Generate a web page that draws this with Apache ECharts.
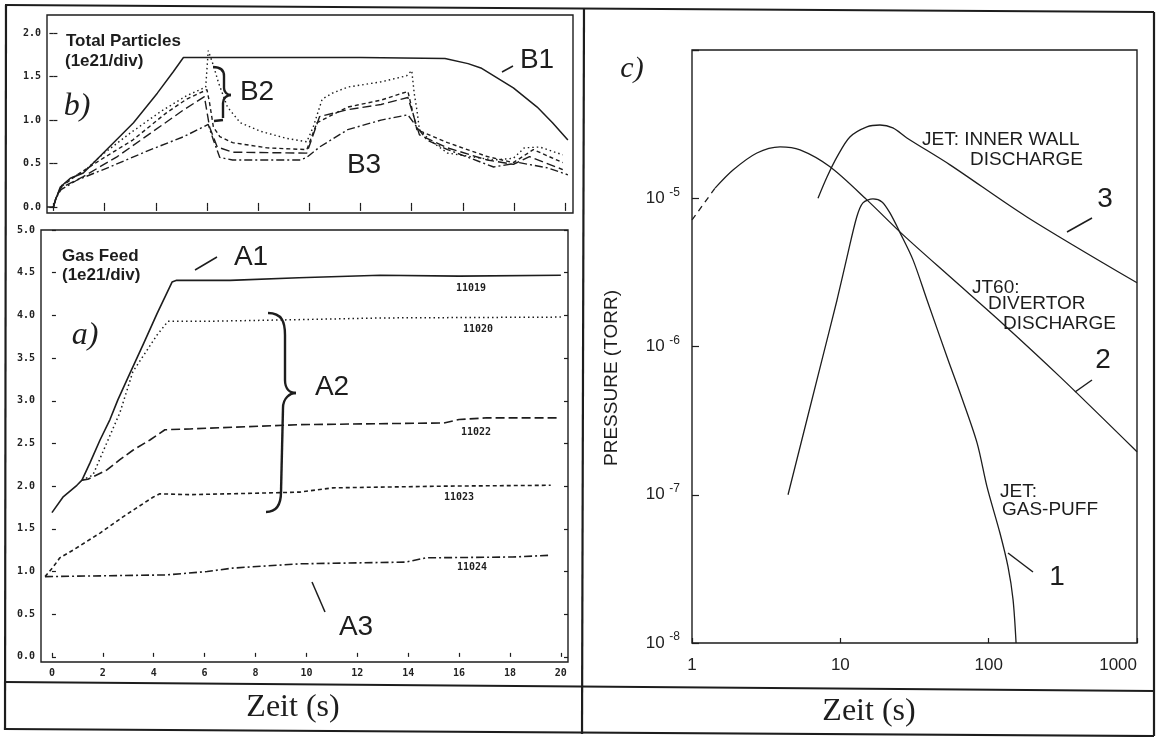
<!DOCTYPE html>
<html>
<head>
<meta charset="utf-8">
<script src="https://cdn.jsdelivr.net/npm/echarts@6/dist/echarts.min.js"></script>
<style>
  html, body { margin: 0; padding: 0; background: #ffffff; }
  #chart { width: 1156px; height: 737px; }
</style>
</head>
<body>
<div id="chart"></div>
<script>
// ---- b) Total particles (1e21/div) vs time (s) ----
const particlesB1 = [[-0.25,0],[0,0],[0.08,0.08],[0.27,0.23],[0.66,0.33],[1.17,0.39],[1.95,0.62],[3.13,0.97],[4.06,1.31],[4.69,1.56],[5.08,1.72],[8,1.72],[12,1.72],[15.3,1.71],[16.2,1.65],[16.7,1.6],[17.97,1.37],[18.9,1.15],[19.5,0.97],[20.1,0.77]];
const particlesDotted = [[0,0],[0.1,0.1],[0.3,0.24],[0.7,0.33],[1.2,0.41],[1.9,0.6],[3.0,0.85],[4.2,1.1],[5.2,1.28],[5.95,1.38],[6.05,1.8],[6.25,1.63],[6.45,1.43],[6.8,1.15],[7.3,0.97],[8.1,0.87],[9.1,0.79],[9.9,0.75],[10.15,0.92],[10.5,1.24],[10.9,1.31],[11.5,1.38],[12.8,1.44],[13.8,1.51],[14.0,1.57],[14.1,1.3],[14.2,1.12],[14.3,0.89],[14.7,0.77],[15.4,0.62],[17.2,0.54],[17.97,0.56],[18.4,0.68],[19.0,0.69],[19.9,0.6]];
const particlesShort = [[0,0],[0.1,0.1],[0.3,0.23],[0.93,0.37],[1.83,0.54],[3.1,0.77],[4.4,1.08],[5.2,1.24],[6.0,1.35],[6.1,1.2],[6.25,0.92],[6.5,0.81],[7.0,0.74],[8.35,0.68],[9.9,0.66],[10.3,0.97],[11.5,1.15],[12.8,1.23],[13.85,1.33],[14.2,0.89],[15.4,0.74],[16.95,0.58],[17.97,0.51],[18.75,0.66],[19.9,0.51]];
const particlesLong = [[0,0],[0.1,0.1],[0.3,0.22],[1.17,0.35],[2.5,0.58],[3.8,0.85],[5.1,1.12],[5.9,1.27],[6.1,0.92],[6.4,0.69],[7.0,0.63],[9.9,0.62],[10.4,1.04],[11.5,1.12],[12.8,1.18],[13.85,1.26],[14.3,0.83],[15.4,0.68],[16.95,0.54],[17.97,0.49],[18.6,0.58],[19.9,0.43]];
const particlesDashDot = [[0,0],[0.1,0.1],[0.3,0.2],[0.93,0.31],[2.2,0.46],[3.8,0.66],[5.1,0.81],[6.05,0.95],[6.25,0.77],[6.5,0.57],[7.0,0.54],[9.65,0.54],[9.9,0.57],[10.4,0.69],[11.5,0.89],[12.8,1.0],[13.85,1.06],[14.2,0.92],[14.6,0.77],[15.4,0.66],[17.2,0.46],[18.2,0.51],[19.3,0.45],[20.1,0.37]];

// ---- a) Gas feed (1e21/div) vs time (s), shots 11019 ... 11024 ----
const feed11019 = [[0,1.69],[0.43,1.87],[0.98,2.01],[1.18,2.07],[1.49,2.27],[1.89,2.54],[2.28,2.78],[2.59,3.01],[3.0,3.28],[3.6,3.67],[4.13,4.02],[4.72,4.39],[4.9,4.41],[7,4.41],[9.7,4.44],[12.9,4.47],[16,4.46],[20,4.47]];
const feed11020 = [[1.18,2.07],[1.61,2.13],[2.16,2.51],[2.67,2.86],[3.18,3.34],[4.13,3.77],[4.56,3.93],[6,3.93],[9.7,3.95],[13,3.97],[20,3.98]];
const feed11022 = [[1.18,2.07],[1.41,2.08],[2.16,2.19],[2.67,2.31],[3.18,2.42],[3.85,2.54],[4.44,2.66],[5.42,2.67],[9.74,2.72],[15.4,2.74],[16.0,2.78],[17.1,2.8],[19.9,2.8]];
const feed11023 = [[-0.27,0.94],[0.04,1.05],[0.31,1.16],[0.83,1.25],[1.89,1.45],[2.79,1.64],[3.97,1.87],[4.24,1.91],[5.42,1.9],[8.45,1.92],[9.74,1.93],[11.04,1.98],[15.5,2.0],[19.6,2.01]];
const feed11024 = [[-0.27,0.94],[4.5,0.96],[6.1,1.0],[7.1,1.04],[9.74,1.09],[13.9,1.11],[14.7,1.16],[18.1,1.17],[19.6,1.19]];
const shotLabels = ['11019','11020','11022','11023','11024'];

// ---- c) Pressure (torr) vs time (s), log-log ----
const pressureGasPuff = [[4.44,1.0e-7],[7.52,8.13e-7],[9.5,2.06e-6],[11.1,4.02e-6],[12.9,7.48e-6],[14.2,9.31e-6],[16.6,9.89e-6],[19.1,9.45e-6],[21.6,7.96e-6],[25.3,5.84e-6],[30.9,3.84e-6],[38.4,2.06e-6],[53.2,8.13e-7],[64.1,4.87e-7],[83.5,2.24e-7],[97.5,1.13e-7],[119,5.54e-8],[135,3.27e-8],[146,1.96e-8],[153,1.0e-8]];
const pressureDivertorStart = [[1,7.14e-6],[1.43,1.17e-5]];
const pressureDivertor = [[1.43,1.17e-5],[1.89,1.55e-5],[2.74,2.02e-5],[3.92,2.22e-5],[5.35,2.12e-5],[8.52,1.63e-5],[15.1,9.75e-6],[26.5,5.66e-6],[54.9,2.95e-6],[125,1.42e-6],[303,6.24e-7],[1000,1.95e-7]];
const pressureInnerWall = [[7.07,1.0e-5],[8.13,1.39e-5],[9.5,1.9e-5],[11.6,2.59e-5],[15.1,3.03e-5],[18.5,3.12e-5],[22.6,2.98e-5],[28.1,2.55e-5],[54.9,1.68e-5],[181,7.48e-6],[1000,2.69e-6]];

// tick positions
const timeTicks = [0,2,4,6,8,10,12,14,16,18,20];
const particleTicks = [0,0.5,1.0,1.5,2.0];
const feedTicks = [0,0.5,1.0,1.5,2.0,2.5,3.0,3.5,4.0,4.5,5.0];

const INK = '#1d1d1d';
const DOT = [1.5, 3], SHORT = [4, 3], LONG = [9, 4], DASHDOT = [8, 3, 2, 3];
const SANS = '"Liberation Sans", Arial, sans-serif';
const SERIF = '"Liberation Serif", "Times New Roman", serif';
const MONO = '"DejaVu Sans Mono", monospace';

function trace(data, xi, yi, dash, width, smooth) {
  return {
    type: 'line', data: data, xAxisIndex: xi, yAxisIndex: yi,
    symbol: 'none', showSymbol: false, silent: true, animation: false,
    smooth: smooth || false,
    lineStyle: { color: INK, width: width || 1.4, type: dash || 'solid' }
  };
}

function linAxis(grid, pos, min, max, ticks, showLabels, fmt) {
  return {
    gridIndex: grid, type: 'value', position: pos, min: min, max: max,
    axisLine: { show: false }, splitLine: { show: false },
    axisTick: { show: true, inside: true, length: 4, customValues: ticks, lineStyle: { color: INK, width: 1.2 } },
    axisLabel: { show: showLabels, customValues: ticks, color: '#222',
      fontSize: 10, fontFamily: MONO, fontWeight: 'bold', margin: 6,
      formatter: fmt || function (v) { return String(v); } }
  };
}
const oneDecimal = function (v) { return v.toFixed(1); };

function txt(x, y, text, font, align, rot) {
  return { type: 'text', x: x, y: y, rotation: rot || 0, silent: true, z: 10,
    style: { text: text, font: font, fill: INK, textAlign: align || 'center', align: align || 'center',
      textVerticalAlign: 'middle', verticalAlign: 'middle' } };
}
function seg(x1, y1, x2, y2, w) {
  return { type: 'line', silent: true, z: 10, shape: { x1: x1, y1: y1, x2: x2, y2: y2 },
    style: { stroke: INK, lineWidth: w || 1.5 } };
}
function bez(x1, y1, c1x, c1y, c2x, c2y, x2, y2, w) {
  return { type: 'bezierCurve', silent: true, z: 10,
    shape: { x1: x1, y1: y1, cpx1: c1x, cpy1: c1y, cpx2: c2x, cpy2: c2y, x2: x2, y2: y2 },
    style: { stroke: INK, lineWidth: w || 2.2, fill: null } };
}

const chart = echarts.init(document.getElementById('chart'), null, { renderer: 'canvas' });

const gridBorder = { show: true, borderColor: INK, borderWidth: 1.4, backgroundColor: 'transparent' };

chart.setOption({
  animation: false,
  backgroundColor: '#ffffff',
  grid: [
    Object.assign({ left: 47, top: 15, width: 526, height: 198 }, gridBorder),
    Object.assign({ left: 41, top: 230, width: 527, height: 432 }, gridBorder),
    Object.assign({ left: 692, top: 50, width: 445, height: 593 }, gridBorder)
  ],
  xAxis: [
    linAxis(0, 'bottom', -0.25, 20.3, timeTicks, false),
    linAxis(0, 'top', -0.25, 20.3, timeTicks, false),
    linAxis(1, 'bottom', -0.43, 20.28, timeTicks, true),
    {
      gridIndex: 2, type: 'log', logBase: 10, min: 1, max: 1000, position: 'bottom',
      axisLine: { show: false }, splitLine: { show: false }, minorTick: { show: false },
      axisTick: { show: true, inside: true, length: 5, lineStyle: { color: INK, width: 1.2 } },
      axisLabel: { color: '#222', fontSize: 17, fontFamily: SANS, margin: 14, alignMaxLabel: 'right',
        formatter: function (v) { return String(Math.round(v)); } }
    }
  ],
  yAxis: [
    linAxis(0, 'left', -0.07, 2.21, particleTicks, true, oneDecimal),
    linAxis(0, 'right', -0.07, 2.21, particleTicks, false),
    linAxis(1, 'left', -0.06, 5.0, feedTicks, true, oneDecimal),
    linAxis(1, 'right', -0.06, 5.0, feedTicks, false),
    {
      gridIndex: 2, type: 'log', logBase: 10, min: 1e-8, max: 1e-4, position: 'left',
      axisLine: { show: false }, splitLine: { show: false }, minorTick: { show: false },
      axisTick: { show: true, inside: true, length: 7, lineStyle: { color: INK, width: 1.2 } },
      axisLabel: {
        color: '#222', margin: 12,
        formatter: function (v) {
          const e = Math.round(Math.log10(v));
          return e >= -4 ? '' : '{b|10 }{s|-' + (-e) + '}';
        },
        rich: {
          b: { fontSize: 17, fontFamily: SANS, color: '#222' },
          s: { fontSize: 12, fontFamily: SANS, color: '#222', padding: [0, 0, 12, 0] }
        }
      }
    }
  ],
  series: [
    trace(particlesB1, 0, 0, 'solid', 1.5),
    trace(particlesDotted, 0, 0, DOT, 1.4),
    trace(particlesShort, 0, 0, SHORT, 1.4),
    trace(particlesLong, 0, 0, LONG, 1.4),
    trace(particlesDashDot, 0, 0, DASHDOT, 1.4),

    trace(feed11019, 2, 2, 'solid', 1.6),
    trace(feed11020, 2, 2, DOT, 1.5),
    trace(feed11022, 2, 2, LONG, 1.6),
    trace(feed11023, 2, 2, SHORT, 1.6),
    trace(feed11024, 2, 2, DASHDOT, 1.6),

    trace(pressureGasPuff, 3, 4, 'solid', 1.3, 0.3),
    trace(pressureDivertorStart, 3, 4, [6, 5], 1.3),
    trace(pressureDivertor, 3, 4, 'solid', 1.3, 0.3),
    trace(pressureInnerWall, 3, 4, 'solid', 1.3, 0.3)
  ],
  graphic: [
    // table frame
    seg(5, 5, 1154, 12, 2.2), seg(6, 5, 5, 730, 2.2), seg(1154, 12, 1154, 736, 2.2),
    seg(5, 729, 1154, 736, 2.2), seg(5, 682, 1154, 691, 2.2), seg(584, 8, 582, 734, 2.2),
    txt(293, 708, 'Zeit (s)', '32px ' + SERIF),
    txt(869, 712, 'Zeit (s)', '32px ' + SERIF),

    // panel b
    txt(66, 41, 'Total Particles', 'bold 17px ' + SANS, 'left'),
    txt(65, 61, '(1e21/div)', 'bold 17px ' + SANS, 'left'),
    txt(77, 107, 'b)', 'italic 32px ' + SERIF),
    txt(537, 60, 'B1', '28px ' + SANS), seg(502, 72, 513, 66, 1.5),
    txt(257, 92, 'B2', '28px ' + SANS),
    txt(364, 165, 'B3', '28px ' + SANS),
    bez(213, 67, 220, 67, 224, 70, 224, 76, 2.4), seg(224, 76, 224, 88, 2.4),
    bez(224, 88, 224, 92, 227, 95, 231, 95, 2.4), bez(231, 95, 227, 95, 223, 98, 223, 103, 2.4),
    seg(223, 103, 223, 118, 2.4), seg(223, 120, 214, 121, 2.4),

    // panel a
    txt(62, 256, 'Gas Feed', 'bold 17px ' + SANS, 'left'),
    txt(62, 275, '(1e21/div)', 'bold 17px ' + SANS, 'left'),
    txt(85, 336, 'a)', 'italic 32px ' + SERIF),
    txt(251, 257, 'A1', '28px ' + SANS), seg(195, 270, 217, 257, 1.5),
    txt(332, 387, 'A2', '28px ' + SANS),
    txt(356, 627, 'A3', '28px ' + SANS), seg(312, 582, 325, 612, 1.5),
    bez(268, 313, 282, 313, 285, 322, 285, 335, 2.4), seg(285, 335, 285, 380, 2.4),
    bez(285, 380, 285, 389, 290, 393, 296, 393, 2.4), bez(296, 393, 290, 393, 283, 398, 283, 408, 2.4),
    seg(283, 408, 281, 492, 2.4), bez(281, 492, 281, 506, 276, 512, 266, 512, 2.4),
    txt(471, 288, shotLabels[0], 'bold 10px ' + MONO),
    txt(478, 329, shotLabels[1], 'bold 10px ' + MONO),
    txt(476, 432, shotLabels[2], 'bold 10px ' + MONO),
    txt(459, 497, shotLabels[3], 'bold 10px ' + MONO),
    txt(472, 567, shotLabels[4], 'bold 10px ' + MONO),

    // panel c
    txt(632, 69, 'c)', 'italic 30px ' + SERIF),
    txt(612, 378, 'PRESSURE (TORR)', '19px ' + SANS, 'center', Math.PI / 2),
    txt(922, 140, 'JET: INNER WALL', '19px ' + SANS, 'left'),
    txt(970, 160, 'DISCHARGE', '19px ' + SANS, 'left'),
    txt(1105, 199, '3', '28px ' + SANS), seg(1067, 232, 1092, 218, 1.5),
    txt(972, 288, 'JT60:', '19px ' + SANS, 'left'),
    txt(988, 304, 'DIVERTOR', '19px ' + SANS, 'left'),
    txt(1003, 324, 'DISCHARGE', '19px ' + SANS, 'left'),
    txt(1103, 360, '2', '28px ' + SANS), seg(1075, 392, 1092, 380, 1.5),
    txt(1000, 492, 'JET:', '19px ' + SANS, 'left'),
    txt(1002, 510, 'GAS-PUFF', '19px ' + SANS, 'left'),
    txt(1057, 577, '1', '28px ' + SANS), seg(1008, 553, 1033, 572, 1.5)
  ]
});
</script>
</body>
</html>
